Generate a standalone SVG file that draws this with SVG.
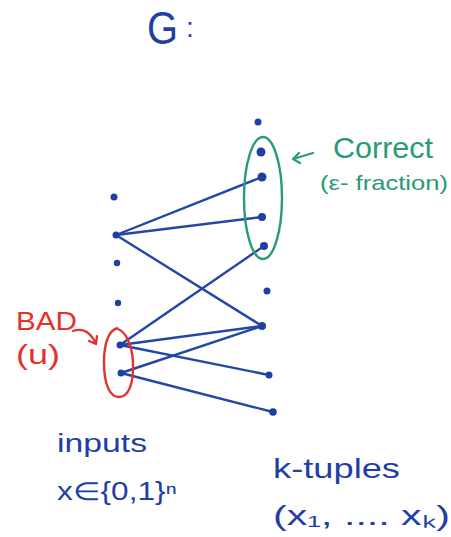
<svg xmlns="http://www.w3.org/2000/svg" width="451" height="537" viewBox="0 0 451 537">
<style>
.b{fill:#1f3fa3}
.e{stroke:#2447a6;stroke-width:2.4;fill:none;stroke-linecap:round}
.tb{fill:#1f3fa3;font-family:"Liberation Sans",sans-serif}
.tg{fill:#2a9a78;font-family:"Liberation Sans",sans-serif}
.tr{fill:#e2322b;font-family:"Liberation Sans",sans-serif}
text{lengthAdjust:spacingAndGlyphs}
</style>
<rect width="451" height="537" fill="#fff"/>
<g id="title"><text class="tb" x="147" y="44" font-size="46" textLength="31" lengthAdjust="spacingAndGlyphs">G</text><text class="tb" x="186" y="37" font-size="28">:</text></g>
<g id="connectors">
<line class="e" x1="116" y1="235" x2="262" y2="177"/>
<line class="e" x1="116" y1="235" x2="262" y2="217"/>
<line class="e" x1="116" y1="235" x2="262" y2="326"/>
<line class="e" x1="120" y1="345" x2="264" y2="246"/>
<line class="e" x1="120" y1="345" x2="262" y2="326"/>
<line class="e" x1="120" y1="345" x2="269" y2="375"/>
<line class="e" x1="121" y1="373" x2="262" y2="326"/>
<line class="e" x1="121" y1="373" x2="273" y2="412"/>
</g>
<g id="inputs">
<circle class="b" cx="114" cy="197" r="3.5"/>
<circle class="b" cx="116" cy="235" r="3.5"/>
<circle class="b" cx="117" cy="263" r="3.2"/>
<circle class="b" cx="118" cy="303" r="3.2"/>
<circle class="b" cx="120" cy="345" r="3.5"/>
<circle class="b" cx="121" cy="373" r="3.5"/>
</g>
<g id="tuples">
<circle class="b" cx="258" cy="122" r="3.5"/>
<circle class="b" cx="261" cy="152" r="4.5"/>
<circle class="b" cx="262" cy="177" r="4.5"/>
<circle class="b" cx="262" cy="217" r="4"/>
<circle class="b" cx="264" cy="246" r="4"/>
<circle class="b" cx="267" cy="291" r="3.5"/>
<circle class="b" cx="262" cy="326" r="4"/>
<circle class="b" cx="269" cy="375" r="3.5"/>
<circle class="b" cx="273" cy="412" r="3.8"/>
</g>
<g id="correct">
<ellipse cx="263" cy="198" rx="19" ry="61" fill="none" stroke="#2a9a78" stroke-width="2.4"/>
<path d="M313,153 L293,159 M299,153 L293,159 L300,163" fill="none" stroke="#2a9a78" stroke-width="2.2" stroke-linecap="round" stroke-linejoin="round"/>
<text class="tg" x="333" y="158" font-size="29" textLength="100" lengthAdjust="spacingAndGlyphs">Correct</text>
<text class="tg" x="320" y="190" font-size="21" textLength="128" lengthAdjust="spacingAndGlyphs">(ε- fraction)</text>
</g>
<g id="bad">
<path d="M118,328 C108,330 104,345 104,362 C104,385 110,397 119,397 C128,397 134,385 133,362 C132,345 126,332 118,329" fill="none" stroke="#e2322b" stroke-width="2.4"/>
<path d="M73,331 Q88,326 96,344 M89,341 L96,344 L97,336" fill="none" stroke="#e2322b" stroke-width="2.2" stroke-linecap="round" stroke-linejoin="round"/>
<text class="tr" x="16" y="330" font-size="26" textLength="61" lengthAdjust="spacingAndGlyphs">BAD</text>
<text class="tr" x="16" y="364" font-size="28" textLength="44" lengthAdjust="spacingAndGlyphs">(u)</text>
</g>
<g id="labels">
<text class="tb" x="57" y="452" font-size="26" textLength="90" lengthAdjust="spacingAndGlyphs">inputs</text>
<text class="tb" x="57" y="500" font-size="25" textLength="120" lengthAdjust="spacingAndGlyphs">x∈{0,1}ⁿ</text>
<text class="tb" x="273" y="478" font-size="28" textLength="127" lengthAdjust="spacingAndGlyphs">k-tuples</text>
<text class="tb" x="273" y="525" font-size="28" textLength="177" lengthAdjust="spacingAndGlyphs">(x₁, .... xₖ)</text>
</g>
</svg>
